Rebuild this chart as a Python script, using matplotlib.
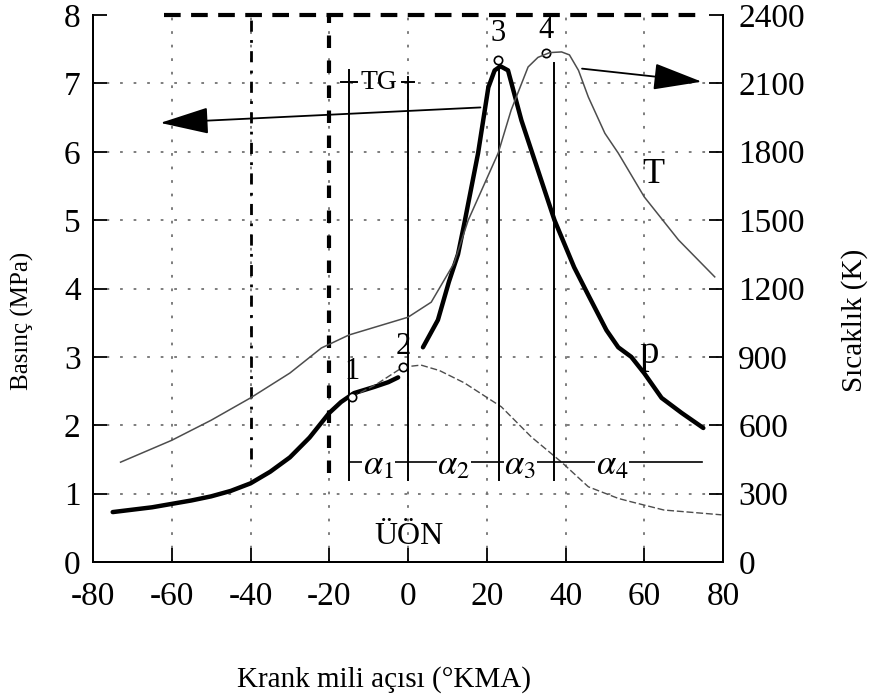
import numpy as np
import matplotlib.pyplot as plt

plt.rcParams['font.family'] = ['Liberation Serif', 'DejaVu Serif']
plt.rcParams['mathtext.fontset'] = 'stix'
plt.rcParams['axes.unicode_minus'] = False

# basinc egrisi (kalin), sikistirma kismi 1 noktasina kadar
p_comp_x = [-75, -65, -60, -55, -50, -45, -40, -35, -30, -25, -20, -17, -13.7, -8.6, -5, -2.5]
p_comp = [0.73, 0.80, 0.85, 0.90, 0.96, 1.04, 1.15, 1.32, 1.53, 1.82, 2.18, 2.34, 2.47, 2.56, 2.63, 2.70]
# yanma + genisleme kismi
p_comb_x = [3.8, 7.6, 10.4, 12.7, 14.3, 17.8, 20.4, 22, 23.5, 25.4, 28.8, 33, 37.2, 42.2,
            46, 50.4, 53.4, 56.7, 60, 64.4, 69.5, 75]
p_comb = [3.14, 3.54, 4.1, 4.5, 4.95, 5.98, 6.94, 7.19, 7.25, 7.19, 6.46, 5.73, 5.0, 4.31,
          3.88, 3.39, 3.14, 3.0, 2.76, 2.40, 2.18, 1.96]
# yanmasiz (ince kesikli) basinc egrisi
p_mot_x = [-14.3, -8, -1.3, 3.3, 8, 14.3, 23.7, 31.3, 39, 45.8, 53.4, 56.7, 65, 79.6]
p_mot = [2.41, 2.6, 2.85, 2.88, 2.8, 2.62, 2.27, 1.83, 1.46, 1.10, 0.93, 0.88, 0.76, 0.69]
# sicaklik egrisi (K)
T_x = [-73, -60, -50, -40, -30, -22, -15, 0, 5.9, 11.7, 15.3, 22.9, 26.2, 30.5, 33, 36, 39,
       41, 43.3, 45.8, 50, 53.4, 60, 68.7, 77.9]
T_K = [438, 534, 622, 720, 829, 939, 996, 1074, 1140, 1311, 1500, 1794, 1983, 2172, 2214, 2235, 2238,
       2225, 2157, 2040, 1881, 1794, 1602, 1413, 1251]

# karakteristik noktalar
pt_x = [-14.3, -1.3, 22.9, 35.1]
pt_p = [2.41, 2.85, 7.34, 7.44]
pt_lbl = ["1", "2", "3", "4"]
pt_lbl_p = [2.78, 3.15, 7.73, 7.78]

# dikey cizgiler (1, 2, 3, 4 noktalari)
v_x = [-15, 0, 23.2, 37.2]
v_top = [7.19, 7.09, 7.27, 7.3]

alpha_lbl = [r"$\alpha_1$", r"$\alpha_2$", r"$\alpha_3$", r"$\alpha_4$"]
alpha_x = [-7.5, 11.6, 28.5, 51.8]
alpha_p = 1.46

x_ticks = [-80, -60, -40, -20, 0, 20, 40, 60, 80]
p_ticks = [0, 1, 2, 3, 4, 5, 6, 7, 8]
T_ticks = [0, 300, 600, 900, 1200, 1500, 1800, 2100, 2400]

fig = plt.figure(figsize=(8.72, 7), dpi=100)
ax = fig.add_axes([93 / 872, 1 - 562 / 700, 630 / 872, 547 / 700])
ax2 = ax.twinx()

ax.set_xlim(-80, 80)
ax.set_ylim(0, 8)
ax2.set_ylim(0, 2400)
ax.set_xticks(x_ticks)
ax.set_yticks(p_ticks)
ax2.set_yticks(T_ticks)

# noktali izgara
for x in x_ticks[1:-1]:
    ax.axvline(x, color="0.45", lw=1.3, ls=(0, (1.5, 6)), zorder=0)
for y in p_ticks[1:-1]:
    ax.axhline(y, color="0.45", lw=1.3, ls=(0, (1.5, 6)), zorder=0)
ax.plot([-20, -20], [1.3, 8], color="black", lw=3, ls=(0, (3, 3)))
ax.plot([-40, -40], [1.5, 8], color="black", lw=2, ls=(0, (4, 3, 1, 3)))
ax.plot([-62, 74], [8, 8], color="black", lw=3, ls=(0, (4, 2.5)), clip_on=False)

# egriler
ax.plot(p_comp_x, p_comp, color="black", lw=3.2, solid_capstyle="round")
ax.plot(p_comb_x, p_comb, color="black", lw=3.2, solid_capstyle="round")
ax.plot(p_mot_x, p_mot, color="0.3", lw=1, ls=(0, (5, 2)))
ax2.plot(T_x, T_K, color="0.3", lw=1.1)

ax.plot(pt_x, pt_p, "o", ms=6, mfc="white", mec="black", mew=1.2, zorder=5)
for x, y, s in zip(pt_x, pt_lbl_p, pt_lbl):
    ax.text(x, y, s, fontsize=22, ha="center", va="center")

for x, top in zip(v_x, v_top):
    ax.plot([x, x], [1.2, top], color="black", lw=1.4)
ax.plot([-17, -13], [7.02, 7.02], color="black", lw=1.4)
ax.plot([-1.5, 1.5], [7.02, 7.02], color="black", lw=1.4)
ax.text(-7.5, 7.02, "TG", fontsize=20, ha="center", va="center")

ax.plot([-15, 74.6], [alpha_p, alpha_p], color="black", lw=1.2)
for x, s in zip(alpha_x, alpha_lbl):
    ax.text(x, alpha_p - 0.05, s, fontsize=25, ha="center", va="center",
            bbox=dict(facecolor="white", edgecolor="none", pad=0.5))

ax.text(62.3, 5.66, "T", fontsize=26, ha="center", va="center")
ax.text(61.3, 3.05, "p", fontsize=28, ha="center", va="center")
ax.text(0.3, 0.37, "ÜÖN", fontsize=23, ha="center", va="center")

arrow = "-|>,head_length=1.1,head_width=0.3"
ax.annotate("", xy=(-63.6, 6.42), xytext=(19.1, 6.65),
            arrowprops=dict(arrowstyle=arrow, mutation_scale=28, lw=1.3, color="black"))
ax.annotate("", xy=(75.3, 7.02), xytext=(43.5, 7.22),
            arrowprops=dict(arrowstyle=arrow, mutation_scale=28, lw=1.3, color="black"))

ax.spines["top"].set_visible(False)
ax2.spines["top"].set_visible(False)
for a in (ax, ax2):
    for s in ("left", "right", "bottom"):
        a.spines[s].set_linewidth(1.4)
ax.tick_params(axis="x", direction="in", length=10, width=1.3, labelsize=24, pad=14)
ax.tick_params(axis="y", direction="in", length=10, width=1.3, labelsize=24, pad=9)
ax2.tick_params(axis="y", direction="in", length=10, width=1.3, labelsize=24, pad=11)

fig.text(22 / 872, 1 - 321 / 700, "Basınç (MPa)", rotation=90, ha="center", va="center", fontsize=18)
fig.text(855 / 872, 1 - 320 / 700, "Sıcaklık (K)", rotation=90, ha="center", va="center", fontsize=21)
fig.text(384 / 872, 1 - 680 / 700, "Krank mili açısı (°KMA)", ha="center", va="center", fontsize=21)

fig.savefig("out.png", dpi=100)
